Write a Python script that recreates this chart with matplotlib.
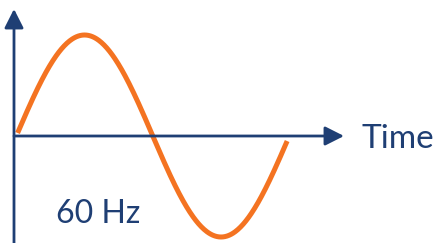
import matplotlib.pyplot as plt
import numpy as np

# sine wave shown in the sketch
freq_hz = 60.0
amplitude = 1.0
phase_start = 0.03                  # rad, where the drawn curve begins
phase_end = 2 * np.pi - 0.05        # rad, where it stops
freq_label = '60 Hz'
time_label = 'Time'

period_ms = 1000.0 / freq_hz
px_per_ms = 273.0 / period_ms       # pixel scale of the sketch
x0_px = 16.3                        # pixel where phase 0 sits
axis_px = 107.0                     # height of time axis above bottom (px)
amp_px = 101.0

W, H = 441, 243
blue = '#1f3f74'
orange = '#f47321'

phase = np.linspace(phase_start, phase_end, 400)
t = phase / (2 * np.pi * freq_hz) * 1000.0
v = amplitude * np.sin(phase)

fig = plt.figure(figsize=(W / 100, H / 100), dpi=100)
ax = fig.add_axes([0, 0, 1, 1])
ax.set_xlim(-x0_px / px_per_ms, (W - x0_px) / px_per_ms)
ax.set_ylim(-axis_px / amp_px, (H - axis_px) / amp_px)
ax.axis('off')

ax.plot(t, v, color=orange, lw=3.6, solid_capstyle='butt', zorder=3)

# axes drawn as arrows
yax_t = (14 - x0_px) / px_per_ms
arrow = dict(arrowstyle='-|>,head_length=11.5,head_width=5.8', color=blue,
             lw=2.0, mutation_scale=1, shrinkA=0, shrinkB=0)
ax.annotate('', xy=(yax_t, (H - axis_px - 9) / amp_px),
            xytext=(yax_t, -axis_px / amp_px), arrowprops=arrow)
ax.annotate('', xy=((344 - x0_px) / px_per_ms, 0),
            xytext=(yax_t, 0), arrowprops=arrow)

ax.text((361 - x0_px) / px_per_ms, -0.03, time_label, color=blue,
        fontsize=24, family='Lato', va='center', ha='left')
ax.text((56 - x0_px) / px_per_ms, -(223 - 136) / amp_px, freq_label,
        color=blue, fontsize=23, family='Lato', va='baseline', ha='left')

fig.savefig('out.png', dpi=100)
